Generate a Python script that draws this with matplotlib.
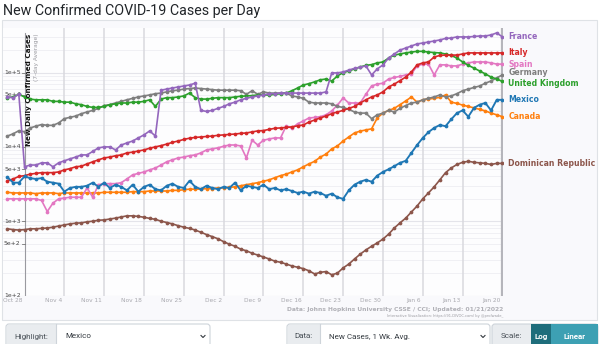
import numpy as np
import pandas as pd
import matplotlib
matplotlib.use("Agg")
import matplotlib.pyplot as plt
from matplotlib.patches import Rectangle, FancyBboxPatch

# ---------------------------------------------------------------------------
# data: 7-day average of new confirmed cases, Oct 25 2021 .. Jan 20 2022
# ---------------------------------------------------------------------------
dates = pd.date_range("2021-10-25", "2022-01-20", freq="D")
origin = pd.Timestamp("2021-10-28")

france = [47000, 46000, 51000,
          5400, 5700, 5700, 6100, 6100, 5400, 6100, 6500, 6900, 7300,
          7800, 7800, 8700, 9700, 10000, 10000, 9100, 10600, 11300, 12000,
          13200, 14500, 16400, 14000, 58000, 60000, 62000, 64000, 66000, 68000,
          72000, 31000, 30000, 31000, 33000, 35000, 38000, 40000, 43000, 45000,
          47000, 48500, 50000, 52000, 52000, 53000, 53000, 53000, 53000, 53000,
          53000, 53000, 53000, 55000, 99000, 99000, 102000, 108000, 114000, 118000,
          123000, 93000, 112000, 127000, 157000, 178000, 201000, 214000, 228000, 243000,
          250000, 258000, 266000, 275000, 288000, 292000, 302000, 302000, 302000, 306000,
          311000, 311000, 321000, 342000, 302000]

italy = [3500, 3700, 4000,
         4100, 4300, 4400, 4500, 4500, 4500, 4600, 4900, 5100, 5400,
         5500, 5900, 6300, 6700, 7100, 7300, 7600, 7800, 8300, 8500,
         8800, 9100, 9600, 10000, 10400, 10900, 11500, 12000, 12600, 13100,
         13400, 13600, 13800, 14000, 14300, 14500, 14700, 14900, 15200, 15400,
         15900, 16400, 16600, 17200, 17800, 18000, 18300, 18600, 19200, 19700,
         21600, 23000, 24600, 26000, 28000, 29500, 31000, 33000, 35000, 39000,
         43000, 47000, 50000, 55000, 64000, 70000, 78000, 87000, 102000, 127000,
         135000, 139000, 162000, 170000, 172000, 172000, 172000, 178000, 184000, 184000,
         184000, 184000, 184000, 184000, 184000]

spain = [2000, 2000, 2000,
         2000, 2000, 2000, 1900, 1350, 1750, 2000, 2050, 2100, 2100,
         2100, 2800, 2100, 3100, 3200, 3200, 3200, 3300, 3700, 4200,
         4400, 4600, 4900, 5200, 5700, 6300, 6700, 7100, 7300, 7600,
         7800, 8300, 9100, 9400, 9700, 10200, 10600, 10600, 10300, 7100,
         12300, 10600, 12300, 12800, 13200, 13200, 19200, 17800, 20500, 22300,
         24500, 24900, 25500, 27000, 30500, 36500, 45500, 39000, 39000, 39000,
         51000, 66000, 70000, 72000, 82000, 86000, 89000, 93000, 96000, 123000,
         130000, 130000, 93000, 127000, 127000, 123000, 123000, 130000, 135000, 139000,
         139000, 139000, 135000, 130000, 130000]

germany = [14000, 15000, 16500,
           16000, 18000, 19000, 20000, 19500, 19500, 21000, 24000, 25000, 26000,
           28000, 29500, 31000, 33000, 36000, 37000, 39000, 41000, 43000, 45000,
           47000, 48500, 50000, 52000, 53000, 55000, 57000, 58000, 60000, 61000,
           62000, 61000, 60000, 59000, 58000, 58000, 58000, 58000, 57000, 51000,
           57000, 51000, 55000, 53000, 53000, 53000, 53000, 48500, 47000, 45000,
           40000, 39000, 39000, 39000, 38000, 35000, 34000, 32000, 29500, 28500,
           28500, 24000, 27000, 28500, 31000, 29500, 33000, 36000, 39000, 40000,
           43000, 45000, 47000, 50000, 47000, 48500, 52000, 57000, 60000, 63000,
           66000, 72000, 77000, 85000, 93000]

uk = [46000, 47000, 51000,
      47000, 44000, 43000, 43000, 43000, 41000, 41000, 40000, 40000, 38000,
      37000, 35000, 34000, 34000, 35000, 37000, 38000, 39000, 39000, 40000,
      40000, 41000, 43000, 35000, 44000, 46000, 46000, 47000, 48500, 53000,
      46000, 44000, 44000, 45000, 46000, 46000, 46000, 47000, 48000, 48500,
      49000, 50000, 50000, 50000, 51000, 52000, 53000, 57000, 62000, 68000,
      71000, 75000, 80000, 82000, 77000, 90000, 100000, 105000, 112000, 119000,
      125000, 128000, 135000, 139000, 157000, 172000, 178000, 184000, 189000, 193000,
      193000, 189000, 186000, 184000, 178000, 170000, 157000, 139000, 125000, 115000,
      105000, 96000, 87000, 82000, 76000]

mexico = [3900, 3300, 3300,
          4000, 3800, 3700, 3800, 3400, 3300, 3200, 2500, 2800, 2900,
          2900, 3000, 3300, 2900, 3300, 2800, 3100, 2900, 2600, 3100,
          2500, 2900, 3100, 2700, 2600, 3000, 3200, 2900, 2800, 3500,
          2900, 2700, 3000, 2800, 2700, 2900, 2800, 3300, 2600, 3000,
          2900, 2800, 3100, 2700, 2800, 2600, 2700, 2550, 2400, 2500,
          2350, 2500, 2400, 2200, 2350, 2100, 2000, 2600, 3100, 3400,
          3600, 3400, 4100, 4600, 5000, 5500, 6100, 6500, 8300, 10600,
          13200, 15800, 18000, 19700, 19000, 23500, 28500, 31000, 25500, 33500,
          37000, 39000, 31000, 43000, 43000]

canada = [2450, 2400, 2400,
          2400, 2400, 2350, 2400, 2400, 2400, 2350, 2400, 2400, 2400,
          2400, 2400, 2400, 2400, 2450, 2450, 2450, 2450, 2450, 2500,
          2500, 2500, 2550, 2550, 2550, 2550, 2600, 2600, 2650, 2700,
          2700, 2700, 2750, 2750, 2800, 2800, 2850, 2900, 3000, 3100,
          3200, 3300, 3450, 3600, 3850, 4100, 4300, 4600, 4900, 5400,
          5900, 6400, 7300, 8000, 9400, 10300, 12000, 13600, 15400, 16300,
          16900, 17500, 24500, 28500, 31000, 33000, 37000, 41500, 47000, 40000,
          43000, 44000, 45000, 46500, 50000, 40000, 38500, 36500, 35000, 33500,
          32000, 30500, 28500, 27000, 25500]

dominican = [790, 770, 760,
             770, 790, 790, 800, 810, 830, 860, 890, 920, 940,
             950, 980, 1000, 1030, 1040, 1070, 1100, 1140, 1180, 1180,
             1160, 1130, 1090, 1060, 1000, 960, 920, 870, 830, 800,
             760, 710, 660, 620, 580, 530, 490, 460, 420, 400,
             370, 350, 330, 310, 290, 280, 265, 250, 240, 230,
             215, 195, 205, 210, 190, 200, 235, 265, 310, 360,
             410, 460, 510, 575, 670, 810, 950, 1100, 1330, 1600,
             2000, 2400, 2900, 3600, 4500, 5200, 5800, 6200, 6400, 6200,
             6100, 6000, 5800, 6000, 6000]

countries = ["Dominican Republic", "Canada", "Spain", "Germany",
             "United Kingdom", "Italy", "France", "Mexico"]
series = [dominican, canada, spain, germany, uk, italy, france, mexico]
colors = ["#8c564b", "#ff7f0e", "#e377c2", "#7f7f7f",
          "#2ca02c", "#d62728", "#9467bd", "#1f77b4"]

tick_dates = pd.date_range("2021-10-28", "2022-01-20", freq="7D")
tick_labels = [d.strftime("%b ") + str(d.day) for d in tick_dates]
y_ticks = [1e2, 5e2, 1e3, 5e3, 1e4, 5e4, 1e5]
y_tick_labels = ["1e+2", "5e+2", "1e+3", "5e+3", "1e+4", "5e+4", "1e+5"]

# name labels that sit close together get nudged apart (points)
label_nudge = {"Germany": 1.6, "United Kingdom": -1.6}

# ---------------------------------------------------------------------------
W, H = 600, 344
fig = plt.figure(figsize=(W / 100, H / 100), dpi=100)
fig.patch.set_facecolor("white")

# page layer in pixel coordinates (title, frame, footer, controls)
page = fig.add_axes([0, 0, 1, 1], zorder=0)
page.set_xlim(0, W)
page.set_ylim(H, 0)
page.axis("off")

page.text(3, 11, "New Confirmed COVID-19 Cases per Day", fontsize=10.3,
          family="Roboto", color="#212529", va="center", ha="left")
page.add_patch(Rectangle((2, 20), 595, 300, facecolor="#f9f9fc",
                         edgecolor="#dfe2e6", lw=0.8))

# plot area
x0, x1 = 3, 503
y_top, y_bot = 28, 295.5
ax = fig.add_axes([x0 / W, 1 - y_bot / H, (x1 - x0) / W, (y_bot - y_top) / H], zorder=1)
ax.set_facecolor("#fdfdfe")
ax.set_yscale("log")
ax.set_ylim(100, 10 ** 5.6)
ax.set_xlim(-3.78, 84.1)
for s in ax.spines.values():
    s.set_visible(False)
ax.set_xticks([])
ax.set_yticks([])
ax.minorticks_off()

# horizontal grid
for dec in [1e2, 1e3, 1e4, 1e5]:
    ax.axhline(dec, color="#e4e4ea", lw=0.8, zorder=0)
    for m in range(2, 10):
        if dec * m < 4e5:
            ax.axhline(dec * m, color="#eeeef3", lw=0.6, zorder=0)

# vertical week lines
tick_x = [(d - origin).days for d in tick_dates]
for tx in tick_x[1:-1]:
    ax.axvline(tx, color="#d9d9de", lw=1.1, zorder=0.5)
ax.axvline(tick_x[-1], color="#b5b5bb", lw=1.6, zorder=0.5)
ax.plot([0, 0], [100, 3.4e5], color="#9a9aa0", lw=0.8, zorder=0.6)

# y tick labels and little ticks on the axis line
for v, lab in zip(y_ticks, y_tick_labels):
    ax.plot([-0.5, 0], [v, v], color="#777", lw=0.6, zorder=0.6)
    ax.text(-0.7, v, lab, ha="right", va="center", fontsize=4.3,
            color="#444", zorder=3)

# x tick labels, right aligned against their week line
for tx, lab in zip(tick_x, tick_labels):
    ax.text(tx - 0.35, -0.008, lab, transform=ax.get_xaxis_transform(),
            ha="right", va="top", fontsize=4.2, color="#a8a8ae", clip_on=False)

# axis titles drawn inside the plot
ax.text(0.75, 3.35e5, "New Daily Confirmed Cases", rotation=90, ha="center",
        va="top", fontsize=5.2, fontweight="bold", color="#111", zorder=4)
ax.text(2.1, 3.35e5, "(7-day Average)", rotation=90, ha="center", va="top",
        fontsize=4.2, color="#9a9aa0", zorder=4)

# country lines
days = np.array([(d - origin).days for d in dates])
for name, vals, col in zip(countries, series, colors):
    lw = 1.35 if name == "Mexico" else 1.2
    ax.plot(days, vals, color=col, lw=lw, marker="o", markersize=2.7,
            markeredgewidth=0, zorder=3)
    ax.annotate(name, (days[-1], vals[-1]), xytext=(4.2, label_nudge.get(name, 0)),
                textcoords="offset points", color=col, fontsize=5.6,
                fontweight="bold", ha="left", va="center",
                annotation_clip=False, zorder=5)

# footer
page.text(503, 310, "Data: Johns Hopkins University CSSE / CCI; Updated: 01/21/2022",
          ha="right", va="center", fontsize=4.3, fontweight="bold", color="#b0b0b6")
page.text(503, 316.5, "Interactive Visualization: https://91-DIVOC.com/ by @profwade_",
          ha="right", va="center", fontsize=2.6, color="#9a9aa0")


# controls row
def control(x_a, x_b, x_c, label, value):
    page.add_patch(FancyBboxPatch((x_a, 324), x_c - x_a, 24,
                                  boxstyle="round,pad=0,rounding_size=3",
                                  facecolor="white", edgecolor="#ced4da", lw=0.8))
    page.add_patch(Rectangle((x_a + 0.5, 324.5), x_b - x_a - 0.5, 23,
                             facecolor="#e9ecef", edgecolor="none"))
    page.plot([x_b, x_b], [324, 348], color="#ced4da", lw=0.8)
    page.text((x_a + x_b) / 2, 336.5, label, ha="center", va="center",
              fontsize=5.8, family="Roboto", color="#495057")
    page.text(x_b + 9, 336.5, value, ha="left", va="center",
              fontsize=5.8, family="Roboto", color="#343a40")
    cx = x_c - 7
    page.plot([cx - 2, cx, cx + 2], [335.5, 337.5, 335.5], color="#343a40", lw=0.8)


control(6, 56, 210, "Highlight:", "Mexico")
control(287, 320, 490, "Data:", "New Cases, 1 Wk. Avg.")

page.add_patch(FancyBboxPatch((492, 324), 106, 24,
                              boxstyle="round,pad=0,rounding_size=3",
                              facecolor="#e9ecef", edgecolor="#ced4da", lw=0.8))
page.text(511.5, 336.5, "Scale:", ha="center", va="center", fontsize=5.8,
          family="Roboto", color="#495057")
page.add_patch(Rectangle((531, 324), 20, 24, facecolor="#1e6d7b", edgecolor="none"))
page.add_patch(Rectangle((551, 324), 47, 24, facecolor="#3da0b3", edgecolor="none"))
page.text(541, 336.5, "Log", ha="center", va="center", fontsize=5.8,
          family="Roboto", fontweight="bold", color="white")
page.text(574.5, 336.5, "Linear", ha="center", va="center", fontsize=5.8,
          family="Roboto", fontweight="bold", color="white")

fig.savefig("out.png", dpi=100)
